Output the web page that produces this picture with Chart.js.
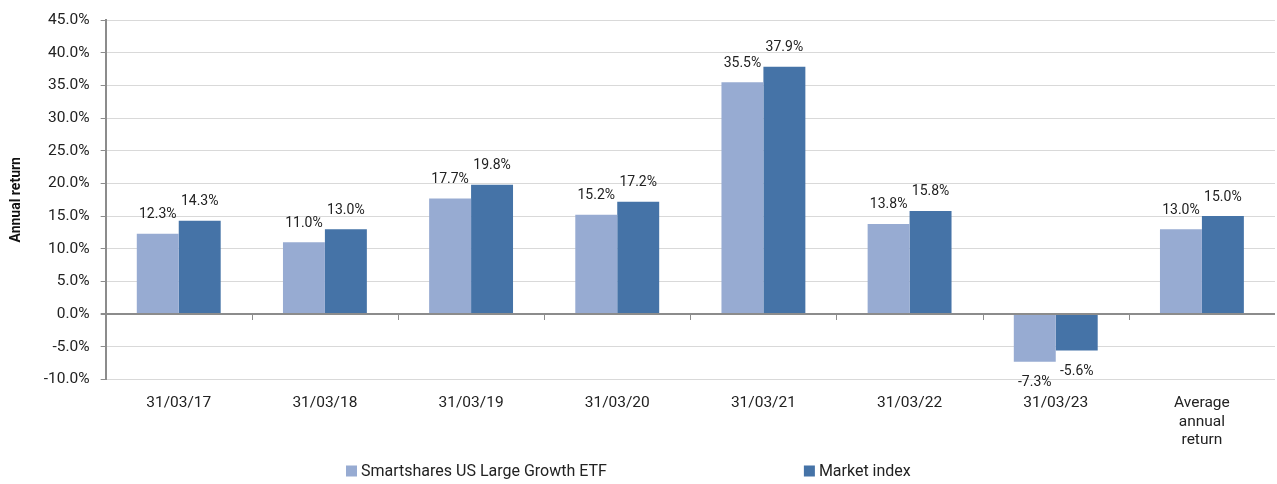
<!DOCTYPE html>
<html>
<head>
<meta charset="utf-8">
<script src="https://cdn.jsdelivr.net/npm/chart.js@4.4.1/dist/chart.umd.min.js"></script>
<style>
  html, body { margin: 0; padding: 0; background: #fff; }
  #wrap { width: 1277px; height: 484px; }
</style>
</head>
<body>
<div id="wrap"><canvas id="myChart" width="1277" height="484"></canvas></div>
<script>
const categories = ['31/03/17', '31/03/18', '31/03/19', '31/03/20', '31/03/21', '31/03/22', '31/03/23', ['Average', 'annual', 'return']]
const etfReturns = [12.3, 11.0, 17.7, 15.2, 35.5, 13.8, -7.3, 13.0]
const marketReturns = [14.3, 13.0, 19.8, 17.2, 37.9, 15.8, -5.6, 15.0]

const fontFamily = 'Roboto, "Liberation Sans", sans-serif'

// value labels above / below each bar
const barLabels = {
  id: 'barLabels',
  afterDatasetsDraw(chart) {
    const ctx = chart.ctx
    ctx.save()
    ctx.font = '14px ' + fontFamily
    ctx.fillStyle = '#222'
    ctx.textAlign = 'center'
    ctx.textBaseline = 'middle'
    chart.data.datasets.forEach((ds, i) => {
      chart.getDatasetMeta(i).data.forEach((bar, j) => {
        const v = ds.data[j]
        const y = v >= 0 ? bar.y - 19 : bar.y + 21
        ctx.fillText(v.toFixed(1) + '%', bar.x, y)
      })
    })
    ctx.restore()
  }
}

// zero line on top of the bars, with small ticks between categories
const zeroTicks = {
  id: 'zeroTicks',
  afterDatasetsDraw(chart) {
    const ctx = chart.ctx
    const x = chart.scales.x
    const area = chart.chartArea
    const y0 = Math.round(chart.scales.y.getPixelForValue(0))
    ctx.save()
    ctx.strokeStyle = '#8c8c8c'
    ctx.lineWidth = 2
    ctx.beginPath()
    ctx.moveTo(area.left, y0)
    ctx.lineTo(area.right, y0)
    ctx.stroke()
    ctx.lineWidth = 1
    for (let i = 1; i < categories.length; i++) {
      const px = Math.round((x.getPixelForValue(i - 1) + x.getPixelForValue(i)) / 2) + 0.5
      ctx.beginPath()
      ctx.moveTo(px, y0)
      ctx.lineTo(px, y0 + 6)
      ctx.stroke()
    }
    ctx.restore()
  }
}

// legend with wide gap between the two entries
const wideLegend = {
  id: 'wideLegend',
  afterDraw(chart) {
    const ctx = chart.ctx
    const box = 11
    const gap = 197
    ctx.save()
    ctx.font = '16px ' + fontFamily
    ctx.textBaseline = 'middle'
    const items = chart.data.datasets.map(ds => ({
      text: ds.label, color: ds.backgroundColor, w: box + 4 + ctx.measureText(ds.label).width
    }))
    const total = items.reduce((s, it) => s + it.w, 0) + gap * (items.length - 1)
    let x = Math.round(chart.width / 2 - total / 2 - 10)
    const y = chart.height - 13
    items.forEach(it => {
      ctx.fillStyle = it.color
      ctx.fillRect(x, y - box / 2, box, box)
      ctx.fillStyle = '#222'
      ctx.fillText(it.text, x + box + 4, y + 1)
      x += it.w + gap
    })
    ctx.restore()
  }
}

const ctx = document.getElementById('myChart').getContext('2d')
const chart = new Chart(ctx, {
  type: 'bar',
  data: {
    labels: categories,
    datasets: [
      {
        label: 'Smartshares US Large Growth ETF',
        backgroundColor: '#97abd2',
        data: etfReturns
      }, {
        label: 'Market index',
        backgroundColor: '#4573a7',
        data: marketReturns
      }
    ]
  },
  options: {
    responsive: false,
    animation: false,
    layout: { padding: { left: 8, right: 2, top: 6, bottom: 28 } },
    datasets: {
      bar: { categoryPercentage: 0.574, barPercentage: 1.0 }
    },
    scales: {
      x: {
        grid: { display: false },
        border: { display: false },
        ticks: { color: '#222', font: { family: fontFamily, size: 15.5, lineHeight: 1.22 }, maxRotation: 0, autoSkip: false, padding: 6 }
      },
      y: {
        min: -10,
        max: 45,
        ticks: {
          stepSize: 5,
          autoSkip: false,
          color: '#222',
          font: { family: fontFamily, size: 15.5 },
          padding: 11,
          callback: (v) => v.toFixed(1) + '%'
        },
        grid: {
          color: (c) => c.tick && c.tick.value === 0 ? '#8c8c8c' : '#d9d9d9',
          lineWidth: (c) => c.tick && c.tick.value === 0 ? 2 : 1,
          tickColor: '#8c8c8c',
          tickLength: 5
        },
        border: { color: '#8c8c8c', width: 2 },
        title: {
          display: true,
          text: 'Annual return',
          color: '#111',
          font: { family: fontFamily, size: 14, weight: 'bold' },
          padding: { top: 0, bottom: 8 }
        }
      }
    },
    plugins: {
      legend: { display: false },
      tooltip: { enabled: false }
    }
  },
  plugins: [barLabels, zeroTicks, wideLegend]
})
</script>
</body>
</html>
